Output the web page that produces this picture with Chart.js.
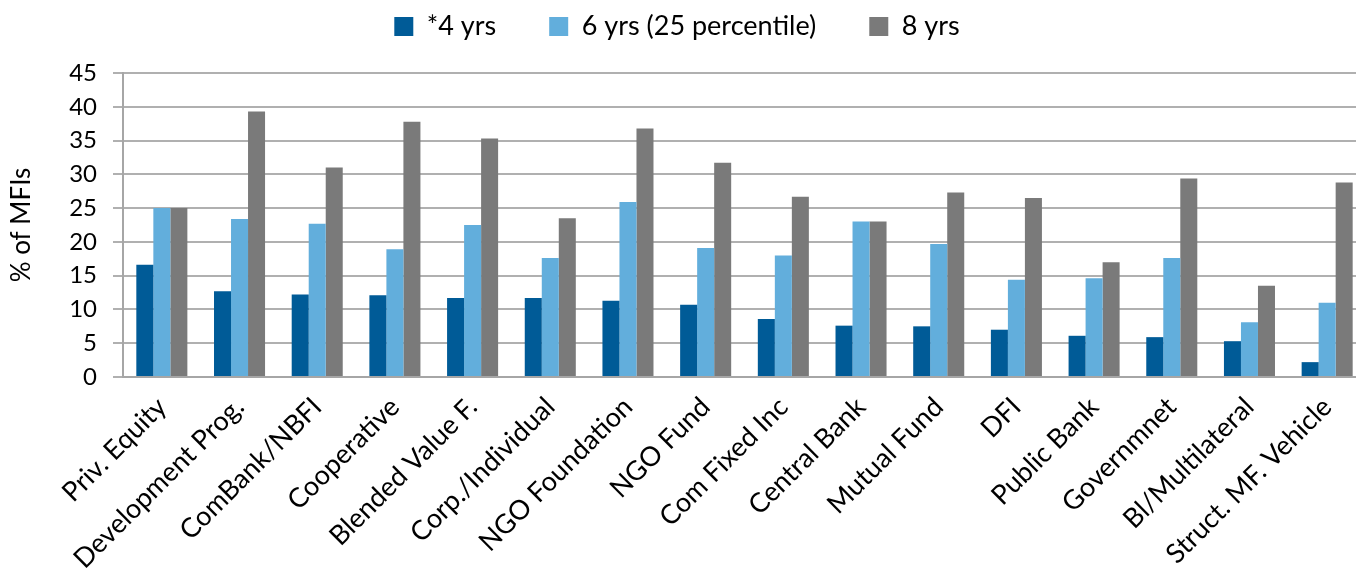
<!DOCTYPE html>
<html>
<head>
<meta charset="utf-8">
<script src="https://cdn.jsdelivr.net/npm/chart.js@4.4.1/dist/chart.umd.min.js"></script>
<style>
  html, body { margin: 0; padding: 0; background: #ffffff; overflow: hidden; }
  #wrap { position: relative; width: 1380px; height: 570px; }
</style>
</head>
<body>
<div id="wrap"><canvas id="chart"></canvas></div>
<script>
// Investor categories along the x axis
const categories = [
  'Priv. Equity', 'Development Prog.', 'ComBank/NBFI', 'Cooperative',
  'Blended Value F.', 'Corp./Individual', 'NGO Foundation', 'NGO Fund',
  'Com Fixed Inc', 'Central Bank', 'Mutual Fund', 'DFI', 'Public Bank',
  'Governmnet', 'Bl/Multilateral', 'Struct. MF. Vehicle'
];

// Share of MFIs (%) per investor type and age
const series4yrs = [16.6, 12.7, 12.2, 12.1, 11.7, 11.7, 11.3, 10.7, 8.6, 7.6, 7.5, 7.0, 6.1, 5.9, 5.3, 2.2];
const series6yrs = [25.0, 23.4, 22.7, 18.9, 22.5, 17.6, 25.9, 19.1, 18.0, 23.0, 19.7, 14.4, 14.6, 17.6, 8.1, 11.0];
const series8yrs = [25.0, 39.3, 31.0, 37.8, 35.3, 23.5, 36.8, 31.7, 26.7, 23.0, 27.3, 26.5, 17.0, 29.4, 13.5, 28.8];

const seriesNames = ['*4 yrs', '6 yrs (25 percentile)', '8 yrs'];
const yTicks = [0, 5, 10, 15, 20, 25, 30, 35, 40, 45];

const FONT = 'Lato, "Open Sans", sans-serif';
const LEGEND_PAD = 53;

// Keep the legend's reserved band fixed and place its row explicitly
const legendPlace = {
  id: 'legendPlace',
  beforeUpdate(chart, args, opts) {
    const lg = chart.legend;
    if (lg && !lg._fixedFit) {
      const fit = lg.fit;
      lg.fit = function () { fit.call(this); this.height = opts.band; };
      lg._fixedFit = true;
    }
  },
  afterLayout(chart, args, opts) {
    const lg = chart.legend;
    if (!lg) return;
    lg.left += opts.dx;
    lg.right += opts.dx;
    lg.top = opts.rowTop - LEGEND_PAD;
    lg.bottom = opts.band + 10;
    lg.height = lg.bottom - lg.top;
  }
};

new Chart(document.getElementById('chart'), {
  type: 'bar',
  data: {
    labels: categories,
    datasets: [
      { label: seriesNames[0], data: series4yrs, backgroundColor: '#005b97', borderWidth: 0 },
      { label: seriesNames[1], data: series6yrs, backgroundColor: '#62aedc', borderWidth: 0 },
      { label: seriesNames[2], data: series8yrs, backgroundColor: '#7a7a7a', borderWidth: 0 }
    ]
  },
  plugins: [legendPlace],
  options: {
    responsive: true,
    maintainAspectRatio: false,
    animation: false,
    devicePixelRatio: 1,
    layout: { padding: { top: 0, right: 14, left: 0, bottom: 0 } },
    datasets: { bar: { categoryPercentage: 0.657, barPercentage: 1.0 } },
    plugins: {
      legendPlace: { dx: -6, rowTop: 13, band: 73 },
      tooltip: { enabled: false },
      legend: {
        position: 'top',
        align: 'center',
        labels: {
          color: '#000000',
          font: { family: FONT, size: 27 },
          boxWidth: 19,
          boxHeight: 19,
          padding: LEGEND_PAD
        }
      }
    },
    scales: {
      x: {
        grid: { display: false, drawTicks: false },
        border: { display: true, color: '#a6a6a6', width: 2 },
        ticks: {
          color: '#000000',
          font: { family: FONT, size: 27 },
          minRotation: 45,
          maxRotation: 45,
          autoSkip: false,
          padding: 14
        },
        afterFit(scale) { scale.height = 193; }
      },
      y: {
        min: 0,
        max: 45,
        afterBuildTicks(scale) { scale.ticks = yTicks.map(v => ({ value: v })); },
        grid: { color: '#b0b0b0', lineWidth: 2, tickLength: 10, drawTicks: true },
        border: { display: true, color: '#a6a6a6', width: 2 },
        ticks: {
          color: '#000000',
          font: { family: FONT, size: 24 },
          padding: 16
        },
        title: {
          display: true,
          text: '% of MFIs',
          color: '#000000',
          font: { family: FONT, size: 26 },
          padding: { top: 6, bottom: 12 }
        },
        afterFit(scale) { scale.width = 123; }
      }
    }
  }
});
</script>
</body>
</html>
